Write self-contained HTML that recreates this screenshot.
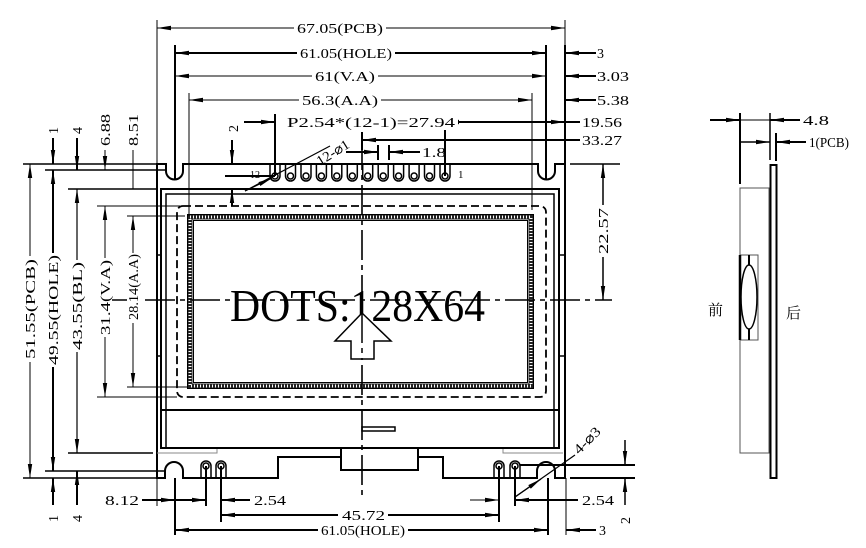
<!DOCTYPE html>
<html><head><meta charset="utf-8"><style>
html,body{margin:0;padding:0;background:#fff}
svg{display:block}
text{font-family:"Liberation Serif","Noto Serif CJK SC",serif;font-size:14px;fill:#000}
</style></head><body>
<svg width="866" height="548" viewBox="0 0 866 548" xmlns="http://www.w3.org/2000/svg">
<defs>
<marker id="a" viewBox="0 0 14 6" refX="14" refY="3" markerWidth="14" markerHeight="6" markerUnits="userSpaceOnUse" orient="auto-start-reverse"><path d="M0,0.8 L14,3 L0,5.2 Z" fill="#000"/></marker>
</defs>
<g stroke="#000" fill="none">
<path stroke-width="2" d="M157,164 H166 V171 A8.5,8.5 0 0 0 183,171 V164 H538 V171 A8.5,8.5 0 0 0 555,171 V164 H565 V478 H555 V471 A9,9 0 0 0 537,471 V478 H443 V457 H418 M341,457 H278 V478 H183 V471 A9,9 0 0 0 165,471 V478 H157 V163"/>
<rect x="341" y="448" width="77" height="22" stroke-width="2"/>
<rect x="161" y="189" width="398" height="259" stroke-width="2"/>
<path stroke-width="1.5" d="M166,449 V194 H554 V449"/>
<line x1="161" y1="410" x2="559" y2="410" stroke-width="2"/>
<path stroke="#888" stroke-width="1" d="M157,453 H217 V449 M503,449 V453 H563"/>
<path stroke-width="1.5" d="M156,255 H161 M156,356 H161 M559,255 H564 M559,356 H564"/>
<rect x="177" y="206" width="369" height="191" rx="6" stroke-width="1.8" stroke-dasharray="8 4"/>
<rect x="190" y="217" width="341" height="169" stroke-width="5" stroke="#222"/>
<rect x="190" y="217" width="341" height="169" stroke-width="3" stroke="#fff" stroke-dasharray="1 2"/>
<rect x="187.5" y="214.5" width="346" height="174" stroke-width="1"/>
<rect x="193.5" y="220.5" width="334" height="162" stroke-width="1"/>
<line x1="362" y1="140" x2="362" y2="497" stroke-width="1.6" stroke-dasharray="30 5 5 5"/>
<line x1="100" y1="300" x2="612" y2="300" stroke-width="1.6" stroke-dasharray="30 5 5 5"/>
</g>
<text x="230" y="321" font-size="46" textLength="255" lengthAdjust="spacingAndGlyphs" style="font-size:46px">DOTS:128X64</text>
<g stroke="#000" fill="none">
<polygon points="362,313 335,341 351,341 351,359 374,359 374,341 391,341" fill="#fff" stroke-width="1.5"/>
<line x1="362" y1="313" x2="362" y2="359" stroke-width="1.5" stroke-dasharray="30 5 5 5"/>
<rect x="362" y="427" width="33" height="4" stroke-width="1.5"/>
<g stroke-width="1.5">
<path d="M270,164 V176 A5,5 0 0 0 280,176 V164"/><circle cx="275" cy="176" r="3"/>
<path d="M285.5,164 V176 A5,5 0 0 0 295.5,176 V164"/><circle cx="290.5" cy="176" r="3"/>
<path d="M301,164 V176 A5,5 0 0 0 311,176 V164"/><circle cx="306" cy="176" r="3"/>
<path d="M316.4,164 V176 A5,5 0 0 0 326.4,176 V164"/><circle cx="321.4" cy="176" r="3"/>
<path d="M331.8,164 V176 A5,5 0 0 0 341.8,176 V164"/><circle cx="336.8" cy="176" r="3"/>
<path d="M347.3,164 V176 A5,5 0 0 0 357.3,176 V164"/><circle cx="352.3" cy="176" r="3"/>
<path d="M362.7,164 V176 A5,5 0 0 0 372.7,176 V164"/><circle cx="367.7" cy="176" r="3"/>
<path d="M378.2,164 V176 A5,5 0 0 0 388.2,176 V164"/><circle cx="383.2" cy="176" r="3"/>
<path d="M393.6,164 V176 A5,5 0 0 0 403.6,176 V164"/><circle cx="398.6" cy="176" r="3"/>
<path d="M409.1,164 V176 A5,5 0 0 0 419.1,176 V164"/><circle cx="414.1" cy="176" r="3"/>
<path d="M424.5,164 V176 A5,5 0 0 0 434.5,176 V164"/><circle cx="429.5" cy="176" r="3"/>
<path d="M440,164 V176 A5,5 0 0 0 450,176 V164"/><circle cx="445" cy="176" r="3"/>
<path d="M201,478 V466 A5,5 0 0 1 211,466 V478"/><circle cx="206" cy="466" r="3"/>
<path d="M216,478 V466 A5,5 0 0 1 226,466 V478"/><circle cx="221" cy="466" r="3"/>
<path d="M494,478 V466 A5,5 0 0 1 504,466 V478"/><circle cx="499" cy="466" r="3"/>
<path d="M510,478 V466 A5,5 0 0 1 520,466 V478"/><circle cx="515" cy="466" r="3"/>
</g>
<g stroke-width="1">
<line x1="157" y1="20" x2="157" y2="164"/>
<line x1="565" y1="20" x2="565" y2="45"/>
<line x1="189" y1="93" x2="189" y2="216"/>
<line x1="532" y1="93" x2="532" y2="210"/>
</g>
<g stroke-width="2">
<line x1="175" y1="45" x2="175" y2="180"/>
<line x1="546" y1="45" x2="546" y2="180"/>
<line x1="565" y1="45" x2="565" y2="164"/>
<line x1="275" y1="114" x2="275" y2="176"/>
<line x1="445" y1="114" x2="445" y2="176"/>
<line x1="362" y1="132" x2="362" y2="150"/>
<line x1="378" y1="145" x2="378" y2="160"/>
<line x1="389" y1="145" x2="389" y2="160"/>
<line x1="225" y1="176" x2="275" y2="176"/>
<line x1="157" y1="28" x2="565" y2="28" stroke-width="1" marker-start="url(#a)" marker-end="url(#a)"/>
<line x1="175" y1="53" x2="546" y2="53" marker-start="url(#a)" marker-end="url(#a)"/>
<line x1="175" y1="76" x2="546" y2="76" stroke-width="1" marker-start="url(#a)" marker-end="url(#a)"/>
<line x1="189" y1="100" x2="532" y2="100" stroke-width="1" marker-start="url(#a)" marker-end="url(#a)"/>
<line x1="596" y1="53" x2="565" y2="53" marker-end="url(#a)"/>
<line x1="596" y1="76" x2="565" y2="76" marker-end="url(#a)"/>
<line x1="596" y1="100" x2="565" y2="100" marker-end="url(#a)"/>
<line x1="244" y1="122" x2="275" y2="122" marker-end="url(#a)"/>
<line x1="445" y1="122" x2="565" y2="122" marker-start="url(#a)" marker-end="url(#a)"/>
<line x1="565" y1="122" x2="580" y2="122"/>
<line x1="362" y1="140" x2="580" y2="140" marker-start="url(#a)"/>
<line x1="346" y1="152" x2="378" y2="152" marker-end="url(#a)"/>
<line x1="420" y1="152" x2="389" y2="152" marker-end="url(#a)"/>
<line x1="232" y1="140" x2="232" y2="164" marker-end="url(#a)"/>
<line x1="232" y1="206" x2="232" y2="189" marker-end="url(#a)"/>
<line x1="245" y1="191" x2="330" y2="146" stroke-width="1.2"/>
<line x1="245" y1="191" x2="272" y2="178" stroke-width="1.2" marker-end="url(#a)"/>
</g>
<g stroke-width="1.5">
<line x1="23" y1="164" x2="157" y2="164"/>
<line x1="45" y1="170" x2="166" y2="170"/>
<line x1="68" y1="189" x2="157" y2="189"/>
<line x1="97" y1="206" x2="180" y2="206" stroke-width="1"/>
<line x1="127" y1="216" x2="185" y2="216" stroke-width="1"/>
<line x1="97" y1="397" x2="177" y2="397" stroke-width="1"/>
<line x1="127" y1="387" x2="187" y2="387" stroke-width="1"/>
<line x1="23" y1="478" x2="157" y2="478"/>
<line x1="45" y1="471" x2="165" y2="471"/>
<line x1="68" y1="453" x2="153" y2="453"/>
</g>
<g stroke-width="2">
<line x1="30" y1="164" x2="30" y2="478" stroke-width="1" marker-start="url(#a)" marker-end="url(#a)"/>
<line x1="53" y1="170" x2="53" y2="471" marker-start="url(#a)" marker-end="url(#a)"/>
<line x1="77" y1="189" x2="77" y2="453" stroke-width="1.2" marker-start="url(#a)" marker-end="url(#a)"/>
<line x1="105" y1="206" x2="105" y2="397" stroke-width="1" marker-start="url(#a)" marker-end="url(#a)"/>
<line x1="133" y1="216" x2="133" y2="387" stroke-width="1" marker-start="url(#a)" marker-end="url(#a)"/>
<line x1="53" y1="138" x2="53" y2="164" marker-end="url(#a)"/>
<line x1="77" y1="138" x2="77" y2="170" marker-end="url(#a)"/>
<line x1="105" y1="150" x2="105" y2="170" stroke-width="1" marker-end="url(#a)"/>
<line x1="133" y1="150" x2="133" y2="189" stroke-width="1"/>
<line x1="53" y1="505" x2="53" y2="478" marker-end="url(#a)"/>
<line x1="77" y1="505" x2="77" y2="471" marker-end="url(#a)"/>
<line x1="570" y1="164" x2="620" y2="164" stroke-width="1.5"/>
<line x1="603" y1="164" x2="603" y2="300" stroke-width="1.5" marker-start="url(#a)" marker-end="url(#a)"/>
<line x1="157" y1="478" x2="157" y2="506" stroke-width="1"/>
<line x1="175" y1="478" x2="175" y2="535"/>
<line x1="206" y1="466" x2="206" y2="506"/>
<line x1="221" y1="466" x2="221" y2="522"/>
<line x1="499" y1="466" x2="499" y2="522"/>
<line x1="515" y1="466" x2="515" y2="506"/>
<line x1="548" y1="478" x2="548" y2="535"/>
<line x1="566" y1="478" x2="566" y2="535" stroke-width="1"/>
<line x1="142" y1="500" x2="175" y2="500" marker-end="url(#a)"/>
<line x1="175" y1="500" x2="206" y2="500" marker-end="url(#a)"/>
<line x1="250" y1="500" x2="221" y2="500" marker-end="url(#a)"/>
<line x1="221" y1="515" x2="499" y2="515" marker-start="url(#a)" marker-end="url(#a)"/>
<line x1="175" y1="530" x2="548" y2="530" marker-start="url(#a)" marker-end="url(#a)"/>
<line x1="596" y1="530" x2="566" y2="530" marker-end="url(#a)"/>
<line x1="470" y1="500" x2="499" y2="500" stroke-width="1" marker-end="url(#a)"/>
<line x1="578" y1="500" x2="515" y2="500" marker-end="url(#a)"/>
<line x1="520" y1="465" x2="635" y2="465"/>
<line x1="570" y1="478" x2="635" y2="478"/>
<line x1="625" y1="440" x2="625" y2="465" stroke-width="1.5" marker-end="url(#a)"/>
<line x1="625" y1="505" x2="625" y2="478" stroke-width="1.5" marker-end="url(#a)"/>
<line x1="515" y1="497" x2="575" y2="455" stroke-width="1.2"/>
<line x1="515" y1="497" x2="541" y2="479" stroke-width="1.2" marker-end="url(#a)"/>
</g>
<g stroke-width="1">
<rect x="740" y="188" width="29" height="265" stroke="#555"/>
<rect x="770.5" y="165" width="6" height="313" stroke-width="2"/>
<rect x="740" y="255" width="18" height="85" stroke="#555"/>
<line x1="740" y1="255" x2="740" y2="340" stroke-width="2.5"/>
<line x1="749" y1="255" x2="749" y2="340" stroke-width="2"/>
<ellipse cx="749" cy="297" rx="8" ry="32" stroke-width="1.5" fill="#fff"/>
<line x1="740" y1="113" x2="740" y2="184" stroke-width="2"/>
<line x1="770" y1="113" x2="770" y2="160" stroke-width="1.5"/>
<line x1="776" y1="133" x2="776" y2="161" stroke-width="2"/>
<line x1="710" y1="120" x2="740" y2="120" stroke-width="2" marker-end="url(#a)"/>
<line x1="740" y1="120" x2="770" y2="120" stroke-width="1"/>
<line x1="800" y1="120" x2="770" y2="120" stroke-width="2" marker-end="url(#a)"/>
<line x1="740" y1="142" x2="770" y2="142" stroke-width="1.5" marker-end="url(#a)"/>
<line x1="806" y1="142" x2="776" y2="142" stroke-width="2" marker-end="url(#a)"/>
</g>
</g>
<g fill="#fff">
<rect x="294" y="20" width="92" height="16"/>
<rect x="297" y="45" width="98" height="16"/>
<rect x="312" y="68" width="66" height="16"/>
<rect x="299" y="92" width="82" height="16"/>
<rect x="284" y="114" width="174" height="16"/>
<rect x="338" y="507" width="50" height="16"/>
<rect x="318" y="522" width="90" height="16"/>
<rect x="24" y="256" width="13" height="106"/>
<rect x="47" y="253" width="13" height="114"/>
<rect x="71" y="260" width="13" height="92"/>
<rect x="99" y="258" width="13" height="79"/>
<rect x="127" y="253" width="13" height="70"/>
<rect x="597" y="205" width="13" height="52"/>
</g>
<text x="297" y="33" textLength="86" lengthAdjust="spacingAndGlyphs">67.05(PCB)</text>
<text x="300" y="58" textLength="92" lengthAdjust="spacingAndGlyphs">61.05(HOLE)</text>
<text x="315" y="81" textLength="60" lengthAdjust="spacingAndGlyphs">61(V.A)</text>
<text x="302" y="105" textLength="76" lengthAdjust="spacingAndGlyphs">56.3(A.A)</text>
<text x="287" y="127" textLength="168" lengthAdjust="spacingAndGlyphs">P2.54*(12-1)=27.94</text>
<text x="597" y="58">3</text>
<text x="597" y="81" textLength="32" lengthAdjust="spacingAndGlyphs">3.03</text>
<text x="597" y="105" textLength="32" lengthAdjust="spacingAndGlyphs">5.38</text>
<text x="582" y="127" textLength="40" lengthAdjust="spacingAndGlyphs">19.56</text>
<text x="582" y="145" textLength="40" lengthAdjust="spacingAndGlyphs">33.27</text>
<text x="422" y="157" textLength="24" lengthAdjust="spacingAndGlyphs">1.8</text>
<text x="250" y="178" style="font-size:10px">12</text>
<text x="458" y="178" style="font-size:11px">1</text>
<text transform="translate(320,166) rotate(-32)" textLength="36" lengthAdjust="spacingAndGlyphs">12-⌀1</text>
<text transform="translate(579,455) rotate(-45)" textLength="32" lengthAdjust="spacingAndGlyphs">4-⌀3</text>
<text transform="translate(238,132) rotate(-90)">2</text>
<text transform="translate(58,134) rotate(-90)">1</text>
<text transform="translate(82,134) rotate(-90)">4</text>
<text transform="translate(110,146) rotate(-90)" textLength="32" lengthAdjust="spacingAndGlyphs">6.88</text>
<text transform="translate(138,146) rotate(-90)" textLength="32" lengthAdjust="spacingAndGlyphs">8.51</text>
<text transform="translate(35,359) rotate(-90)" textLength="100" lengthAdjust="spacingAndGlyphs">51.55(PCB)</text>
<text transform="translate(58,365) rotate(-90)" textLength="110" lengthAdjust="spacingAndGlyphs">49.55(HOLE)</text>
<text transform="translate(82,350) rotate(-90)" textLength="88" lengthAdjust="spacingAndGlyphs">43.55(BL)</text>
<text transform="translate(110,335) rotate(-90)" textLength="75" lengthAdjust="spacingAndGlyphs">31.4(V.A)</text>
<text transform="translate(138,320) rotate(-90)" textLength="66" lengthAdjust="spacingAndGlyphs">28.14(A.A)</text>
<text transform="translate(608,254) rotate(-90)" textLength="46" lengthAdjust="spacingAndGlyphs">22.57</text>
<text transform="translate(58,522) rotate(-90)">1</text>
<text transform="translate(82,522) rotate(-90)">4</text>
<text transform="translate(630,524) rotate(-90)">2</text>
<text x="105" y="505" textLength="34" lengthAdjust="spacingAndGlyphs">8.12</text>
<text x="254" y="505" textLength="32" lengthAdjust="spacingAndGlyphs">2.54</text>
<text x="342" y="520" textLength="43" lengthAdjust="spacingAndGlyphs">45.72</text>
<text x="321" y="535" textLength="84" lengthAdjust="spacingAndGlyphs">61.05(HOLE)</text>
<text x="599" y="535">3</text>
<text x="582" y="505" textLength="32" lengthAdjust="spacingAndGlyphs">2.54</text>
<text x="803" y="125" textLength="26" lengthAdjust="spacingAndGlyphs">4.8</text>
<text x="809" y="147" textLength="40" lengthAdjust="spacingAndGlyphs">1(PCB)</text>
<text x="708" y="315" style="font-family:'Noto Serif CJK SC','Noto Sans CJK SC',serif;font-size:15px">前</text>
<text x="786" y="318" style="font-family:'Noto Serif CJK SC','Noto Sans CJK SC',serif;font-size:15px">后</text>
</svg>
</body></html>
